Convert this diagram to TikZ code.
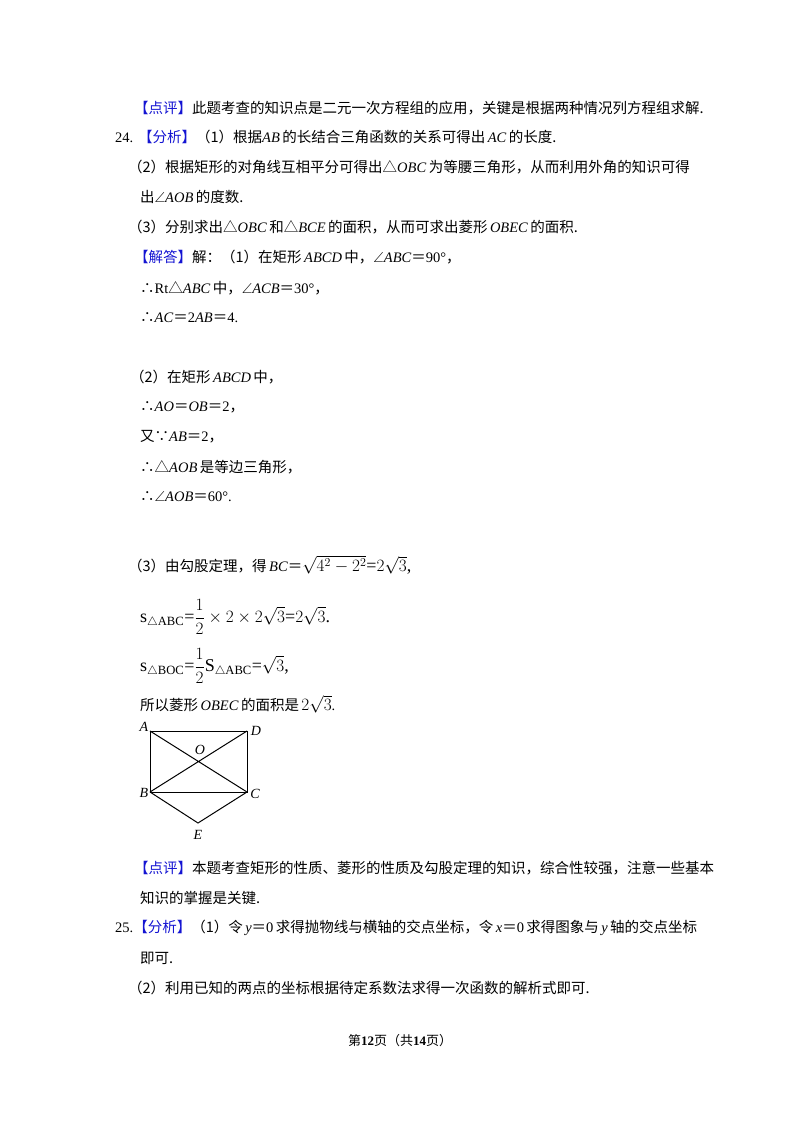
\documentclass[tikz,border=0pt]{standalone}
\usepackage{amsmath,amssymb}
\usepackage{fontspec}
\setmainfont{Liberation Serif}
\newfontfamily\cjk{Noto Sans CJK SC}
\definecolor{bl}{RGB}{20,20,210}
\newcommand{\zh}[1]{{\cjk #1}}
\newcommand{\tg}[1]{{\color{bl}\cjk 【#1】}}
\newcommand{\tf}{{\cjk ∴}}
\newcommand{\bc}{{\cjk ∵}}
\begin{document}
\begin{tikzpicture}[x=1pt,y=-1pt,
  ln/.style={anchor=west,inner sep=0pt,font=\fontsize{14.5}{16}\selectfont},
  fm/.style={anchor=west,inner sep=0pt,font=\fontsize{18}{20}\selectfont},
  lab/.style={inner sep=0pt,font=\fontsize{14}{15}\selectfont\itshape},
  seg/.style={line width=1pt}]
\useasboundingbox (0,0) rectangle (800,1132);
\node[ln] (l1) at (134,108) {\tg{点评}\zh{此题考查的知识点是二元一次方程组的应用，关键是根据两种情况列方程组求解.}};
\node[ln] (l2) at (115,137) {24. \tg{分析}\zh{（1）根据}\textit{AB}\,\zh{的长结合三角函数的关系可得出}\,\textit{AC}\,\zh{的长度.}};
\node[ln] (l3) at (128,167) {\zh{（2）根据矩形的对角线互相平分可得出△}\textit{OBC}\,\zh{为等腰三角形，从而利用外角的知识可得}};
\node[ln] (l4) at (140,197) {\zh{出}$\angle$\textit{AOB}\,\zh{的度数.}};
\node[ln] (l5) at (128,227) {\zh{（3）分别求出△}\textit{OBC}\,\zh{和△}\textit{BCE}\,\zh{的面积，从而可求出菱形}\,\textit{OBEC}\,\zh{的面积.}};
\node[ln] (l6) at (134,257) {\tg{解答}\zh{解：（1）在矩形}\,\textit{ABCD}\,\zh{中，}$\angle$\textit{ABC}\zh{＝}90°\zh{，}};
\node[ln] (l7) at (140,288) {\tf Rt\zh{△}\textit{ABC}\,\zh{中，}$\angle$\textit{ACB}\zh{＝}30°\zh{，}};
\node[ln] (l8) at (140,318) {\tf\textit{AC}\zh{＝}2\textit{AB}\zh{＝}4.};
\node[ln] (l9) at (130,377) {\zh{（2）在矩形}\,\textit{ABCD}\,\zh{中，}};
\node[ln] (l10) at (140,407) {\tf\textit{AO}\zh{＝}\textit{OB}\zh{＝}2\zh{，}};
\node[ln] (l11) at (140,437) {\zh{又}\bc\textit{AB}\zh{＝}2\zh{，}};
\node[ln] (l12) at (140,467) {\tf\zh{△}\textit{AOB}\,\zh{是等边三角形，}};
\node[ln] (l13) at (140,497) {\tf$\angle$\textit{AOB}\zh{＝}60°.};
\node[ln] (l14) at (128,565) {\zh{（3）由勾股定理，得}\,\textit{BC}\zh{＝}{\fontsize{18}{20}\selectfont$\sqrt{4^{2}-2^{2}}$=$2\sqrt{3}$,}};
\node[fm] (l15) at (140,617) {s$_{\triangle\mathrm{ABC}}$=$\dfrac{1}{2}\times2\times2\sqrt{3}$=$2\sqrt{3}$.};
\node[fm] (l16) at (140,666) {s$_{\triangle\mathrm{BOC}}$=$\dfrac{1}{2}$S$_{\triangle\mathrm{ABC}}$=$\sqrt{3}$,};
\node[ln] (l17) at (140,704) {\zh{所以菱形}\,\textit{OBEC}\,\zh{的面积是}\,{\fontsize{17}{18}\selectfont$2\sqrt{3}$}.};
\coordinate (A) at (150,731);
\coordinate (D) at (247,731);
\coordinate (B) at (150,792);
\coordinate (C) at (247,792);
\coordinate (O) at (198.5,761.5);
\coordinate (E) at (198,823);
\draw[seg] (A) -- (D) -- (C) -- (B) -- cycle;
\draw[seg] (A) -- (C) (B) -- (D) (B) -- (E) -- (C);
\node[lab] (la) at (144,727) {A};
\node[lab] (ld) at (256,731) {D};
\node[lab] (lo) at (200,750) {O};
\node[lab] (lb) at (144,793) {B};
\node[lab] (lc) at (255,794) {C};
\node[lab] (le) at (198,835) {E};
\node[ln] (l18) at (134,868) {\tg{点评}\zh{本题考查矩形的性质、菱形的性质及勾股定理的知识，综合性较强，注意一些基本}};
\node[ln] (l19) at (140,898) {\zh{知识的掌握是关键.}};
\node[ln] (l20) at (115,928) {25.\tg{分析}\zh{（1）令}\,\textit{y}\zh{＝}0\,\zh{求得抛物线与横轴的交点坐标，令}\,\textit{x}\zh{＝}0\,\zh{求得图象与}\,\textit{y}\,\zh{轴的交点坐标}};
\node[ln] (l21) at (140,958) {\zh{即可.}};
\node[ln] (l22) at (128,988) {\zh{（2）利用已知的两点的坐标根据待定系数法求得一次函数的解析式即可.}};
\node[inner sep=0pt,font=\fontsize{13}{14}\selectfont] (ft) at (400,1041) {\zh{第}\textbf{12}\zh{页（共}\textbf{14}\zh{页）}};
\end{tikzpicture}
\end{document}
